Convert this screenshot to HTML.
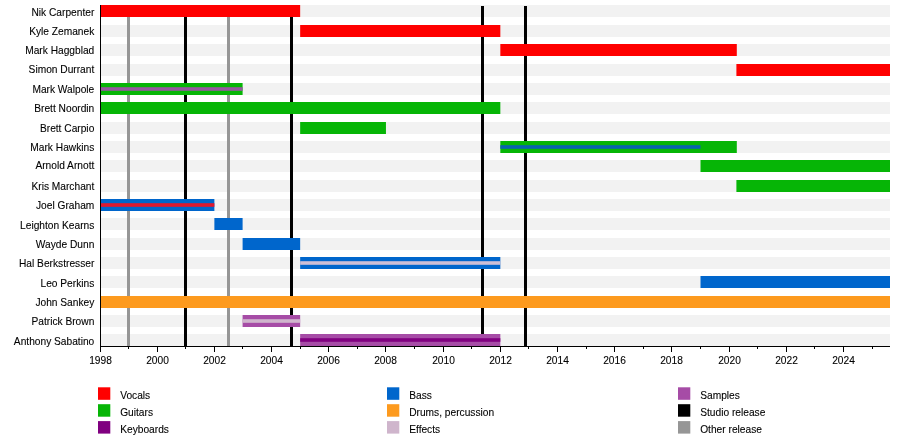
<!DOCTYPE html><html><head><meta charset="utf-8"><style>html,body{margin:0;padding:0;background:#fff;width:900px;height:440px;overflow:hidden}svg{display:block;will-change:transform}text{font-family:"Liberation Sans",sans-serif;fill:#000;stroke:#000;stroke-width:0.1px}</style></head><body>
<svg width="900" height="440" viewBox="0 0 900 440">
<rect x="100" y="5.0" width="790" height="12" fill="#f2f2f2"/>
<rect x="100" y="25.0" width="790" height="12" fill="#f2f2f2"/>
<rect x="100" y="44.0" width="790" height="12" fill="#f2f2f2"/>
<rect x="100" y="64.0" width="790" height="12" fill="#f2f2f2"/>
<rect x="100" y="83.0" width="790" height="12" fill="#f2f2f2"/>
<rect x="100" y="102.0" width="790" height="12" fill="#f2f2f2"/>
<rect x="100" y="122.0" width="790" height="12" fill="#f2f2f2"/>
<rect x="100" y="141.0" width="790" height="12" fill="#f2f2f2"/>
<rect x="100" y="160.0" width="790" height="12" fill="#f2f2f2"/>
<rect x="100" y="180.0" width="790" height="12" fill="#f2f2f2"/>
<rect x="100" y="199.0" width="790" height="12" fill="#f2f2f2"/>
<rect x="100" y="218.0" width="790" height="12" fill="#f2f2f2"/>
<rect x="100" y="238.0" width="790" height="12" fill="#f2f2f2"/>
<rect x="100" y="257.0" width="790" height="12" fill="#f2f2f2"/>
<rect x="100" y="276.0" width="790" height="12" fill="#f2f2f2"/>
<rect x="100" y="296.0" width="790" height="12" fill="#f2f2f2"/>
<rect x="100" y="315.0" width="790" height="12" fill="#f2f2f2"/>
<rect x="100" y="334.0" width="790" height="12" fill="#f2f2f2"/>
<rect x="127" y="6" width="3" height="340" fill="#969696"/>
<rect x="184" y="6" width="3" height="340" fill="#000000"/>
<rect x="227" y="6" width="3" height="340" fill="#969696"/>
<rect x="290" y="6" width="3" height="340" fill="#000000"/>
<rect x="481" y="6" width="3" height="340" fill="#000000"/>
<rect x="524" y="6" width="3" height="340" fill="#000000"/>
<rect x="100" y="5.0" width="200.16" height="12" fill="#ff0000"/>
<rect x="300.16" y="25.0" width="200.17" height="12" fill="#ff0000"/>
<rect x="500.33" y="44.0" width="236.47" height="12" fill="#ff0000"/>
<rect x="736.4" y="64.0" width="153.6" height="12" fill="#ff0000"/>
<rect x="100" y="83.0" width="142.6" height="12" fill="#06b506"/>
<rect x="100" y="87.2" width="142.6" height="3.6" fill="#9658a0"/>
<rect x="100" y="102.0" width="400.33" height="12" fill="#06b506"/>
<rect x="300.16" y="122.0" width="85.79" height="12" fill="#06b506"/>
<rect x="500.33" y="141.0" width="236.47" height="12" fill="#06b506"/>
<rect x="500.33" y="145.2" width="200.17" height="3.6" fill="#0a62b0"/>
<rect x="700.5" y="160.0" width="189.5" height="12" fill="#06b506"/>
<rect x="736.4" y="180.0" width="153.6" height="12" fill="#06b506"/>
<rect x="100" y="199.0" width="114.38" height="12" fill="#0066cc"/>
<rect x="100" y="203.2" width="114.38" height="3.6" fill="#e0182e"/>
<rect x="214.38" y="218.0" width="28.22" height="12" fill="#0066cc"/>
<rect x="242.6" y="238.0" width="57.56" height="12" fill="#0066cc"/>
<rect x="300.16" y="257.0" width="200.17" height="12" fill="#0066cc"/>
<rect x="300.16" y="261.2" width="200.17" height="3.6" fill="#cdbfd6"/>
<rect x="700.5" y="276.0" width="189.5" height="12" fill="#0066cc"/>
<rect x="100" y="296.0" width="790" height="12" fill="#fd9a1e"/>
<rect x="242.6" y="315.0" width="57.56" height="12" fill="#a64ca6"/>
<rect x="242.6" y="319.2" width="57.56" height="3.6" fill="#cfb5cc"/>
<rect x="300.16" y="334.0" width="200.17" height="12" fill="#a64ca6"/>
<rect x="300.16" y="338.2" width="200.17" height="3.6" fill="#800080"/>
<rect x="100" y="5" width="1" height="342" fill="#000"/>
<rect x="100" y="346" width="790" height="1" fill="#000"/>
<rect x="100" y="347" width="1" height="5" fill="#000"/>
<text x="100.5" y="364.2" font-size="10.2" text-anchor="middle">1998</text>
<rect x="128" y="347" width="1" height="2" fill="#000"/>
<rect x="157" y="347" width="1" height="5" fill="#000"/>
<text x="157.5" y="364.2" font-size="10.2" text-anchor="middle">2000</text>
<rect x="185" y="347" width="1" height="2" fill="#000"/>
<rect x="214" y="347" width="1" height="5" fill="#000"/>
<text x="214.5" y="364.2" font-size="10.2" text-anchor="middle">2002</text>
<rect x="242" y="347" width="1" height="2" fill="#000"/>
<rect x="271" y="347" width="1" height="5" fill="#000"/>
<text x="271.5" y="364.2" font-size="10.2" text-anchor="middle">2004</text>
<rect x="300" y="347" width="1" height="2" fill="#000"/>
<rect x="328" y="347" width="1" height="5" fill="#000"/>
<text x="328.5" y="364.2" font-size="10.2" text-anchor="middle">2006</text>
<rect x="357" y="347" width="1" height="2" fill="#000"/>
<rect x="385" y="347" width="1" height="5" fill="#000"/>
<text x="385.5" y="364.2" font-size="10.2" text-anchor="middle">2008</text>
<rect x="414" y="347" width="1" height="2" fill="#000"/>
<rect x="443" y="347" width="1" height="5" fill="#000"/>
<text x="443.5" y="364.2" font-size="10.2" text-anchor="middle">2010</text>
<rect x="471" y="347" width="1" height="2" fill="#000"/>
<rect x="500" y="347" width="1" height="5" fill="#000"/>
<text x="500.5" y="364.2" font-size="10.2" text-anchor="middle">2012</text>
<rect x="528" y="347" width="1" height="2" fill="#000"/>
<rect x="557" y="347" width="1" height="5" fill="#000"/>
<text x="557.5" y="364.2" font-size="10.2" text-anchor="middle">2014</text>
<rect x="586" y="347" width="1" height="2" fill="#000"/>
<rect x="614" y="347" width="1" height="5" fill="#000"/>
<text x="614.5" y="364.2" font-size="10.2" text-anchor="middle">2016</text>
<rect x="643" y="347" width="1" height="2" fill="#000"/>
<rect x="671" y="347" width="1" height="5" fill="#000"/>
<text x="671.5" y="364.2" font-size="10.2" text-anchor="middle">2018</text>
<rect x="700" y="347" width="1" height="2" fill="#000"/>
<rect x="729" y="347" width="1" height="5" fill="#000"/>
<text x="729.5" y="364.2" font-size="10.2" text-anchor="middle">2020</text>
<rect x="757" y="347" width="1" height="2" fill="#000"/>
<rect x="786" y="347" width="1" height="5" fill="#000"/>
<text x="786.5" y="364.2" font-size="10.2" text-anchor="middle">2022</text>
<rect x="814" y="347" width="1" height="2" fill="#000"/>
<rect x="843" y="347" width="1" height="5" fill="#000"/>
<text x="843.5" y="364.2" font-size="10.2" text-anchor="middle">2024</text>
<rect x="872" y="347" width="1" height="2" fill="#000"/>
<text x="94.3" y="16.0" font-size="10.2" text-anchor="end">Nik Carpenter</text>
<text x="94.3" y="34.7" font-size="10.2" text-anchor="end">Kyle Zemanek</text>
<text x="94.3" y="54.45" font-size="10.2" text-anchor="end">Mark Haggblad</text>
<text x="94.3" y="73.4" font-size="10.2" text-anchor="end">Simon Durrant</text>
<text x="94.3" y="93.45" font-size="10.2" text-anchor="end">Mark Walpole</text>
<text x="94.3" y="111.55" font-size="10.2" text-anchor="end">Brett Noordin</text>
<text x="94.3" y="132.45" font-size="10.2" text-anchor="end">Brett Carpio</text>
<text x="94.3" y="151.45" font-size="10.2" text-anchor="end">Mark Hawkins</text>
<text x="94.3" y="169.2" font-size="10.2" text-anchor="end">Arnold Arnott</text>
<text x="94.3" y="190.45" font-size="10.2" text-anchor="end">Kris Marchant</text>
<text x="94.3" y="208.7" font-size="10.2" text-anchor="end">Joel Graham</text>
<text x="94.3" y="228.6" font-size="10.2" text-anchor="end">Leighton Kearns</text>
<text x="94.3" y="248.2" font-size="10.2" text-anchor="end">Wayde Dunn</text>
<text x="94.3" y="266.65" font-size="10.2" text-anchor="end">Hal Berkstresser</text>
<text x="94.3" y="287.15" font-size="10.2" text-anchor="end">Leo Perkins</text>
<text x="94.3" y="306.05" font-size="10.2" text-anchor="end">John Sankey</text>
<text x="94.3" y="324.7" font-size="10.2" text-anchor="end">Patrick Brown</text>
<text x="94.3" y="344.5" font-size="10.2" text-anchor="end">Anthony Sabatino</text>
<rect x="98" y="387.3" width="12.3" height="12.5" fill="#ff0000"/>
<text x="120.2" y="398.8" font-size="10.2">Vocals</text>
<rect x="98" y="404.2" width="12.3" height="12.5" fill="#06b506"/>
<text x="120.2" y="415.8" font-size="10.2">Guitars</text>
<rect x="98" y="421.1" width="12.3" height="12.5" fill="#800080"/>
<text x="120.2" y="432.8" font-size="10.2">Keyboards</text>
<rect x="387" y="387.3" width="12.3" height="12.5" fill="#0066cc"/>
<text x="409.2" y="398.8" font-size="10.2">Bass</text>
<rect x="387" y="404.2" width="12.3" height="12.5" fill="#fd9a1e"/>
<text x="409.2" y="415.8" font-size="10.2">Drums, percussion</text>
<rect x="387" y="421.1" width="12.3" height="12.5" fill="#cfb5cc"/>
<text x="409.2" y="432.8" font-size="10.2">Effects</text>
<rect x="678" y="387.3" width="12.3" height="12.5" fill="#a64ca6"/>
<text x="700.2" y="398.8" font-size="10.2">Samples</text>
<rect x="678" y="404.2" width="12.3" height="12.5" fill="#000000"/>
<text x="700.2" y="415.8" font-size="10.2">Studio release</text>
<rect x="678" y="421.1" width="12.3" height="12.5" fill="#969696"/>
<text x="700.2" y="432.8" font-size="10.2">Other release</text>
</svg></body></html>
